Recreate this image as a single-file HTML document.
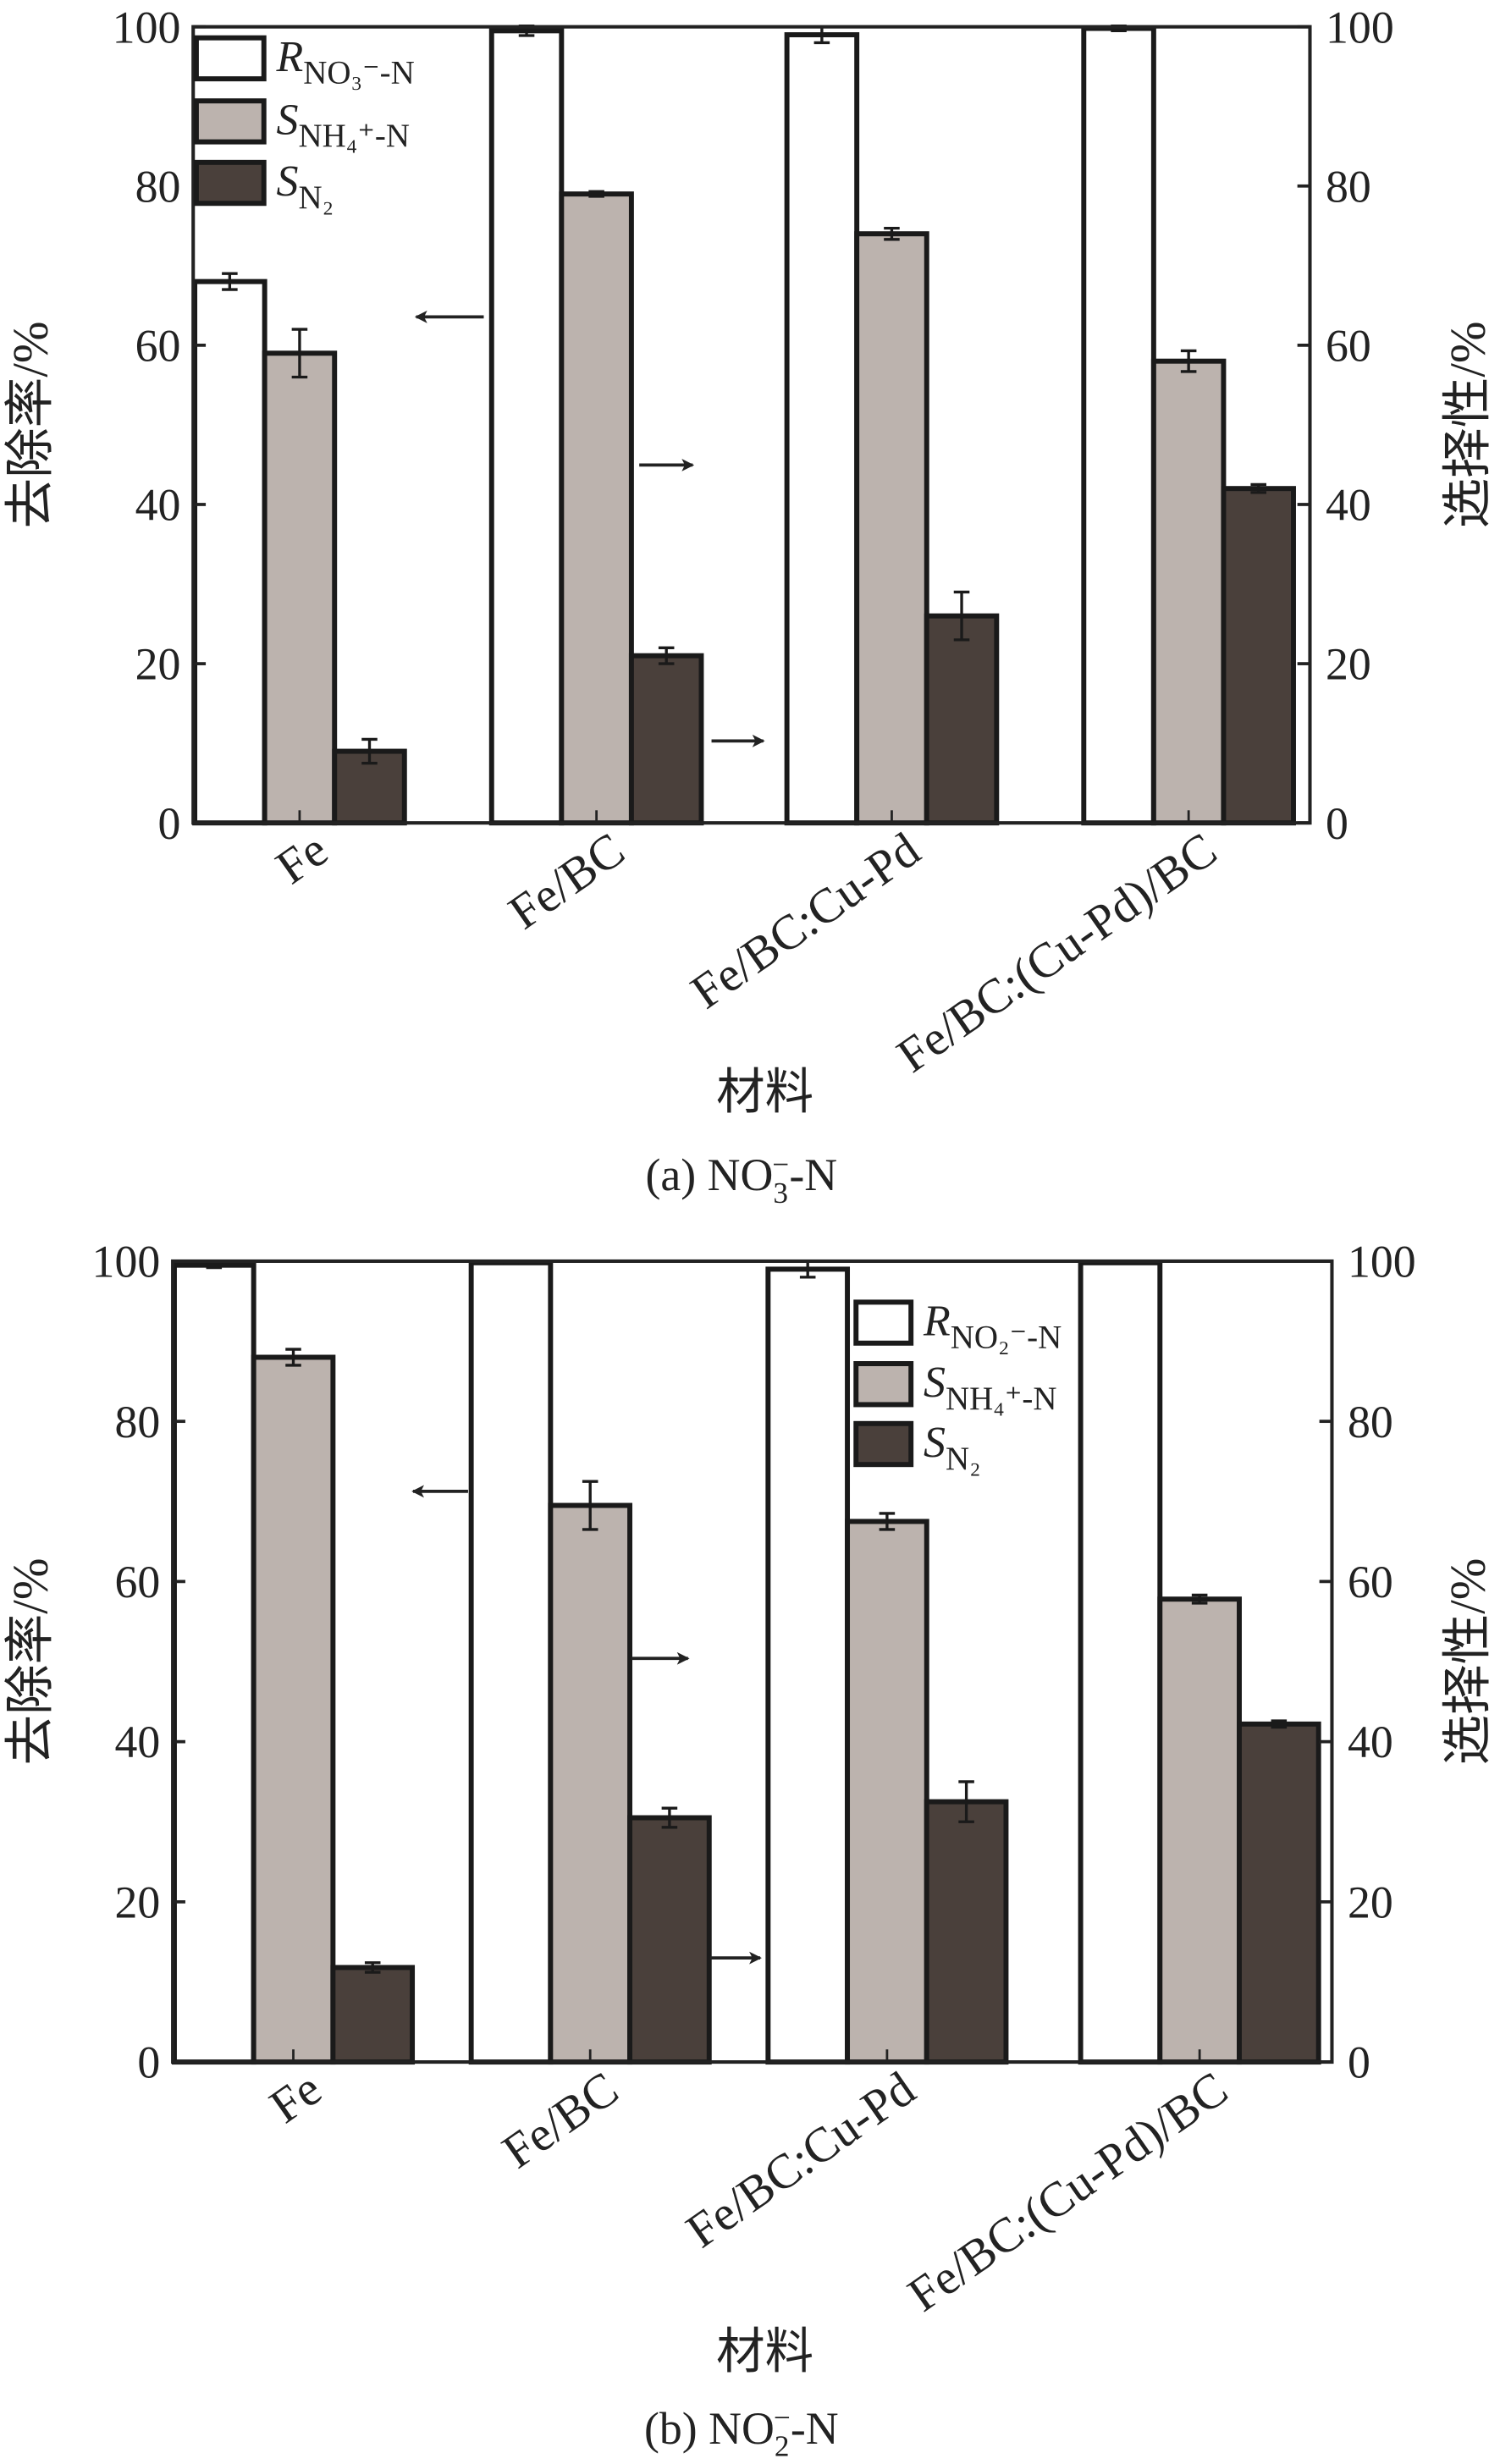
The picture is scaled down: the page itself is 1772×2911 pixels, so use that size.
<!DOCTYPE html>
<html><head><meta charset="utf-8">
<style>
html,body{margin:0;padding:0;background:#fff;}
svg{display:block;}
text{font-family:"Liberation Serif","Noto Serif CJK SC",serif;fill:#222;}
.cjk{font-family:"Liberation Serif","Noto Sans CJK SC",sans-serif;}
</style></head>
<body>
<svg id="fig" width="1772" height="2911" viewBox="0 0 955 1563" preserveAspectRatio="none" xmlns="http://www.w3.org/2000/svg">
<defs>
<marker id="ah" markerWidth="8" markerHeight="8" refX="7" refY="4" orient="auto" markerUnits="userSpaceOnUse"><path d="M0,0 L8,4 L0,8 L2,4 Z" fill="#222"/></marker>
</defs>
</svg>
<script>
const categories = ["Fe","Fe/BC","Fe/BC:Cu-Pd","Fe/BC:(Cu-Pd)/BC"];
const ticks = [0,20,40,60,80,100];
const aRemoval = [68,99.5,99,99.8];
const aRemovalErr = [1,0.6,1,0.3];
const aNH4 = [59,79,74,58];
const aNH4Err = [3,0.3,0.7,1.3];
const aN2 = [9,21,26,42];
const aN2Err = [1.5,1,3,0.5];
const bRemoval = [99.5,99.8,99,99.8];
const bRemovalErr = [0.3,0.1,1,0];
const bNH4 = [88,69.5,67.5,57.8];
const bNH4Err = [1,3,1,0.5];
const bN2 = [11.8,30.5,32.5,42.2];
const bN2Err = [0.6,1.2,2.5,0.4];

const NS="http://www.w3.org/2000/svg";
const svg=document.getElementById('fig');
function el(tag,attrs,parent){const e=document.createElementNS(NS,tag);for(const k in attrs)e.setAttribute(k,attrs[k]);(parent||svg).appendChild(e);return e;}
const colors=["#ffffff","#bcb3ae","#4a403b"];

function chart(cfg){
  const g=el('g',{});
  
  
  const {L,R,T,B,starts,bw}=cfg;
  const y=v=>B-(v/100)*(B-T);
  const series=[cfg.s0,cfg.s1,cfg.s2], errs=[cfg.e0,cfg.e1,cfg.e2], snames=['removal','nh4-selectivity','n2-selectivity'];
  categories.forEach((c,i)=>{
    series.forEach((s,j)=>{
      const x=starts[i]+j*bw, v=s[i];
      const r=el('rect',{x:x,y:y(v),width:bw,height:B-y(v),fill:colors[j],stroke:'#1a1a1a','stroke-width':3.2},g);
      
      
      const e=errs[j][i];
      if(e>0){
        const cx=x+bw/2;
        const eb=el('path',{d:`M${cx},${y(v+e)}V${y(v-e)}M${cx-5},${y(v+e)}H${cx+5}M${cx-5},${y(v-e)}H${cx+5}`,stroke:'#1a1a1a','stroke-width':1.8,fill:'none'},g);
        
        
      }
    });
    const cx=starts[i]+1.5*bw;
    const lb=el('text',{x:cx+20,y:B+22,'text-anchor':'end','font-size':31,transform:`rotate(-35 ${cx+20} ${B+22})`},g);
    lb.textContent=c;
    
    
    el('line',{x1:cx,y1:B,x2:cx,y2:B-8,stroke:'#222','stroke-width':1.5},g);
  });
  const fr=el('rect',{x:L,y:T,width:R-L,height:B-T,fill:'none',stroke:'#222','stroke-width':2.2},g);
  
  
  ticks.forEach(t=>{
    el('line',{x1:L,y1:y(t),x2:L+8,y2:y(t),stroke:'#222','stroke-width':2},g);
    el('line',{x1:R,y1:y(t),x2:R-8,y2:y(t),stroke:'#222','stroke-width':2},g);
    const a=el('text',{x:L-8,y:y(t)+10,'text-anchor':'end','font-size':29},g);a.textContent=t;
    
    
    const b=el('text',{x:R+10,y:y(t)+10,'text-anchor':'start','font-size':29},g);b.textContent=t;
    
    
  });
  const yl=el('text',{x:30,y:(T+B)/2,'text-anchor':'middle','font-size':32,class:'cjk',transform:`rotate(-90 30 ${(T+B)/2})`},g);
  yl.textContent='去除率/%';
  
  
  const yr=el('text',{x:945,y:(T+B)/2,'text-anchor':'middle','font-size':32,class:'cjk',transform:`rotate(-90 945 ${(T+B)/2})`},g);
  yr.textContent='选择性/%';
  
  
  const xl=el('text',{x:487,y:cfg.xlY,'text-anchor':'middle','font-size':31,class:'cjk'},g);
  xl.textContent='材料';
  
  
  const cap=el('text',{x:472,y:cfg.capY,'text-anchor':'middle','font-size':29},g);
  cap.innerHTML=cfg.cap;
  
  
  cfg.arrows.forEach(a=>{
    const ar=el('line',{x1:a[0],y1:a[2],x2:a[1],y2:a[2],stroke:'#222','stroke-width':2,'marker-end':'url(#ah)'},g);
    
    
  });
  const lg=el('g',{},g);
  
  
  cfg.legY.forEach((ly,j)=>{
    el('rect',{x:cfg.legX,y:ly,width:cfg.legW,height:26,fill:colors[j],stroke:'#1a1a1a','stroke-width':3.2},lg);
    const t=el('text',{x:cfg.legX+cfg.legW+8,y:ly+21,'font-size':28},lg);
    t.innerHTML=cfg.legText[j];
    
    
  });
}

chart({name:'chart-a-nitrate',L:123,R:834,T:17,B:522,starts:[124,313,501,690],bw:44.5,
  s0:aRemoval,s1:aNH4,s2:aN2,e0:aRemovalErr,e1:aNH4Err,e2:aN2Err,xlY:703,capY:755,
  cap:'(a) NO<tspan font-size="19" dy="8">3</tspan><tspan font-size="19" dx="-10" dy="-18">−</tspan><tspan dy="10">-N</tspan>',
  arrows:[[308,265,201],[407,441,295],[453,486,470]],
  legX:125,legW:43,legY:[24,64,103],
  legText:['<tspan font-style="italic">R</tspan><tspan font-size="21" dy="8">NO₃⁻-N</tspan>','<tspan font-style="italic">S</tspan><tspan font-size="21" dy="8">NH₄⁺-N</tspan>','<tspan font-style="italic">S</tspan><tspan font-size="21" dy="8">N₂</tspan>']});

chart({name:'chart-b-nitrite',L:110,R:848,T:800,B:1308,starts:[111,300,489,688],bw:50.5,
  s0:bRemoval,s1:bNH4,s2:bN2,e0:bRemovalErr,e1:bNH4Err,e2:bN2Err,xlY:1502,capY:1550,
  cap:'(b) NO<tspan font-size="19" dy="8">2</tspan><tspan font-size="19" dx="-10" dy="-18">−</tspan><tspan dy="10">-N</tspan>',
  arrows:[[298,263,946],[402,438,1052],[452,484,1242]],
  legX:545,legW:35,legY:[826,865,903],
  legText:['<tspan font-style="italic">R</tspan><tspan font-size="21" dy="8">NO₂⁻-N</tspan>','<tspan font-style="italic">S</tspan><tspan font-size="21" dy="8">NH₄⁺-N</tspan>','<tspan font-style="italic">S</tspan><tspan font-size="21" dy="8">N₂</tspan>']});
</script>
</body></html>
